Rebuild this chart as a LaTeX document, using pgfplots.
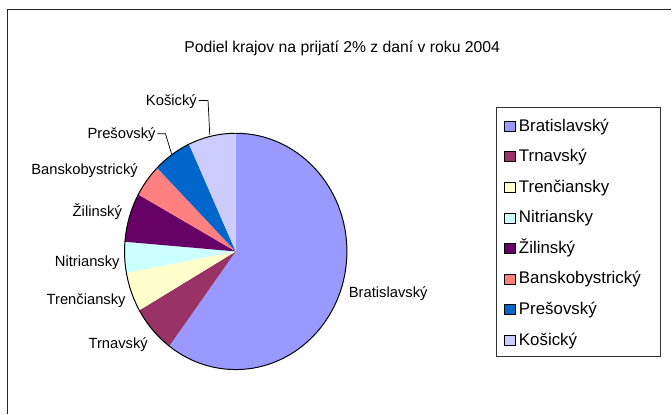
\documentclass[border=0pt]{standalone}
\usepackage{pgfplots}
\pgfplotsset{compat=1.18}
\usepackage{fontspec}
\setmainfont{Liberation Sans}
\definecolor{cBra}{HTML}{9999FF}
\definecolor{cTrn}{HTML}{993366}
\definecolor{cTre}{HTML}{FFFFCC}
\definecolor{cNit}{HTML}{CCFFFF}
\definecolor{cZil}{HTML}{660066}
\definecolor{cBan}{HTML}{FF8080}
\definecolor{cPre}{HTML}{0066CC}
\definecolor{cKos}{HTML}{CCCCFF}
\newcommand{\lab}{\fontsize{10.5}{12}\selectfont}
\newcommand{\leg}{\fontsize{12}{14}\selectfont}
\begin{document}
\begin{tikzpicture}
\begin{axis}[
  width=16.8cm, height=10.35cm, scale only axis,
  xmin=0, xmax=672, ymin=0, ymax=414, y dir=reverse,
  hide axis, clip=false,
]
% invisible anchor so the axis has content
\addplot[draw=none, forget plot] coordinates {(0,0) (672,414)};
\pgfplotsextra{
  % frame (left and top edges, the rest is outside the picture)
  \draw[line width=1.1pt, black!85] (axis cs:7.3,414) -- (axis cs:7.3,9.3) -- (axis cs:672,9.3);
  % pie: shares in percent, clockwise from 12 o'clock
  \gdef\cum{0}
  \foreach \v/\c in {60.2/cBra, 6.5/cTrn, 5.4/cTre, 4.2/cNit, 6.7/cZil, 4.5/cBan, 5.6/cPre, 6.9/cKos}{
    \pgfmathsetmacro\sa{90-3.6*\cum}
    \pgfmathsetmacro\ea{90-3.6*(\cum+\v)}
    \fill[\c] (axis cs:236,251.7) -- ++(\sa:2.7825cm and 2.9575cm)
       arc[start angle=\sa, end angle=\ea, x radius=2.7825cm, y radius=2.9575cm] -- cycle;
    \pgfmathsetmacro\newcum{\cum+\v}
    \xdef\cum{\newcum}
  }
  \draw[black, line width=0.7pt] (axis cs:236,251.7) ellipse [x radius=2.7825cm, y radius=2.9575cm];
  % leader lines
  \draw[black, line width=0.5pt] (axis cs:199,100.7) -- (axis cs:208.3,100.7) -- (axis cs:210,135);
  \draw[black, line width=0.5pt] (axis cs:157.5,134) -- (axis cs:165.7,134) -- (axis cs:171.7,154);
  % slice labels
  \node[anchor=base east, inner sep=0pt] at (axis cs:197.3,105.7) {\lab Košický};
  \node[anchor=base east, inner sep=0pt] at (axis cs:156,139) {\lab Prešovský};
  \node[anchor=base east, inner sep=0pt] at (axis cs:138.3,174.3) {\lab Banskobystrický};
  \node[anchor=base east, inner sep=0pt] at (axis cs:122.3,216.7) {\lab Žilinský};
  \node[anchor=base east, inner sep=0pt] at (axis cs:120,266.7) {\lab Nitriansky};
  \node[anchor=base east, inner sep=0pt] at (axis cs:126,305) {\lab Trenčiansky};
  \node[anchor=base east, inner sep=0pt] at (axis cs:148.3,349.3) {\lab Trnavský};
  \node[anchor=base west, inner sep=0pt] at (axis cs:349,297.7) {\lab Bratislavský};
  % title
  \node[anchor=base, inner sep=0pt] at (axis cs:342.5,52.5) {\fontsize{11.2}{13}\selectfont Podiel krajov na prijatí 2\% z daní v roku 2004};
  % legend
  \draw[black!80, line width=0.6pt] (axis cs:497.3,107.3) rectangle (axis cs:660.7,356.7);
  \foreach \i/\c/\t in {0/cBra/Bratislavský, 1/cTrn/Trnavský, 2/cTre/Trenčiansky, 3/cNit/Nitriansky, 4/cZil/Žilinský, 5/cBan/Banskobystrický, 6/cPre/Prešovský, 7/cKos/Košický}{
    \pgfmathsetmacro\yb{131.3+30.6*\i}
    \pgfmathsetmacro\yt{\yb-10}
    \draw[black, line width=0.4pt, fill=\c] (axis cs:504.7,\yt) rectangle (axis cs:516,\yb);
    \node[anchor=base west, inner sep=0pt] at (axis cs:519.3,\yb) {\leg \t};
  }
}
\end{axis}
\end{tikzpicture}
\end{document}
